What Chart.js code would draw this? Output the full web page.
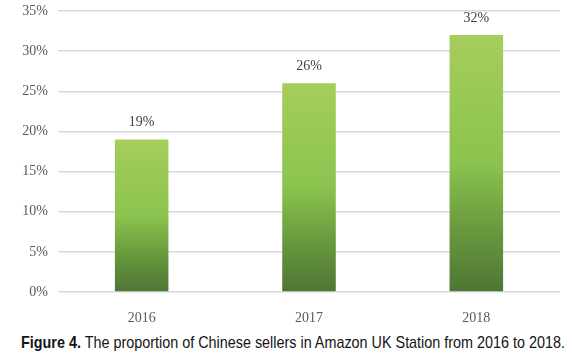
<!DOCTYPE html>
<html>
<head>
<meta charset="utf-8">
<script src="https://cdn.jsdelivr.net/npm/chart.js@4"></script>
<style>
  body { margin: 0; background: #fff; }
  #wrap { position: relative; width: 572px; height: 364px; }
  #caption {
    position: absolute; left: 21px; top: 333px; white-space: nowrap;
    font-family: "Liberation Sans", Arial, sans-serif;
    font-size: 17px; color: #151515; transform-origin: left top;
  }
</style>
</head>
<body>
<div id="wrap">
  <canvas id="chart-sellers" width="572" height="322"></canvas>
  <div id="caption"><b>Figure 4.</b> The proportion of Chinese sellers in Amazon UK Station from 2016 to 2018.</div>
</div>
<script>
let years = ["2016", "2017", "2018"];
let sellerShare = [19, 26, 32];
let yTicks = [0, 5, 10, 15, 20, 25, 30, 35];

let serif = "'Liberation Serif', 'Times New Roman', serif";

let barGradient = function (context) {
  let chart = context.chart;
  if (!chart.chartArea || !chart.scales.y) return "#8bc34e";
  let y = chart.scales.y;
  let top = y.getPixelForValue(sellerShare[context.dataIndex]);
  let bottom = y.getPixelForValue(0);
  let g = chart.ctx.createLinearGradient(0, top, 0, bottom);
  g.addColorStop(0, "#a6cd5b");
  g.addColorStop(0.5, "#8bc34e");
  g.addColorStop(0.75, "#6a9a3e");
  g.addColorStop(1, "#4e7535");
  return g;
};

let valueLabels = {
  id: "valueLabels",
  afterDatasetsDraw: function (chart) {
    let ctx = chart.ctx;
    let meta = chart.getDatasetMeta(0);
    ctx.save();
    ctx.font = "14px " + serif;
    ctx.fillStyle = "#404040";
    ctx.textAlign = "center";
    ctx.textBaseline = "middle";
    meta.data.forEach(function (bar, i) {
      ctx.fillText(sellerShare[i] + "%", bar.x, bar.y - 17);
    });
    ctx.restore();
  },
};

let ctx = document.getElementById("chart-sellers").getContext("2d");
new Chart(ctx, {
  type: "bar",
  data: {
    labels: years,
    datasets: [
      {
        data: sellerShare,
        backgroundColor: barGradient,
        barPercentage: 0.32,
        categoryPercentage: 1,
      },
    ],
  },
  options: {
    responsive: false,
    animation: false,
    layout: { padding: { top: 11, right: 12, left: 0, bottom: 0 } },
    plugins: {
      legend: { display: false },
      tooltip: { enabled: false },
    },
    scales: {
      x: {
        grid: { display: false },
        border: { display: false },
        ticks: {
          color: "#595959",
          padding: 10,
          font: { family: serif, size: 14 },
        },
        afterFit: function (scale) {
          scale.height = 30;
          scale.paddingLeft = 0;
          scale.paddingRight = 0;
        },
      },
      y: {
        min: 0,
        max: 35,
        afterBuildTicks: function (scale) {
          scale.ticks = yTicks.map(function (v) { return { value: v }; });
        },
        afterFit: function (scale) {
          scale.width = 58;
          scale.paddingTop = 0;
          scale.paddingBottom = 0;
        },
        grid: { color: "#d9d9d9", lineWidth: 1.5, drawTicks: false },
        border: { display: false },
        ticks: {
          color: "#595959",
          padding: 10,
          font: { family: serif, size: 14 },
          callback: function (v) { return v + "%"; },
        },
      },
    },
  },
  plugins: [valueLabels],
});

// fit caption to the reference width
let cap = document.getElementById("caption");
let w = cap.getBoundingClientRect().width;
cap.style.transform = "scaleX(" + (544 / w) + ")";
</script>
</body>
</html>
